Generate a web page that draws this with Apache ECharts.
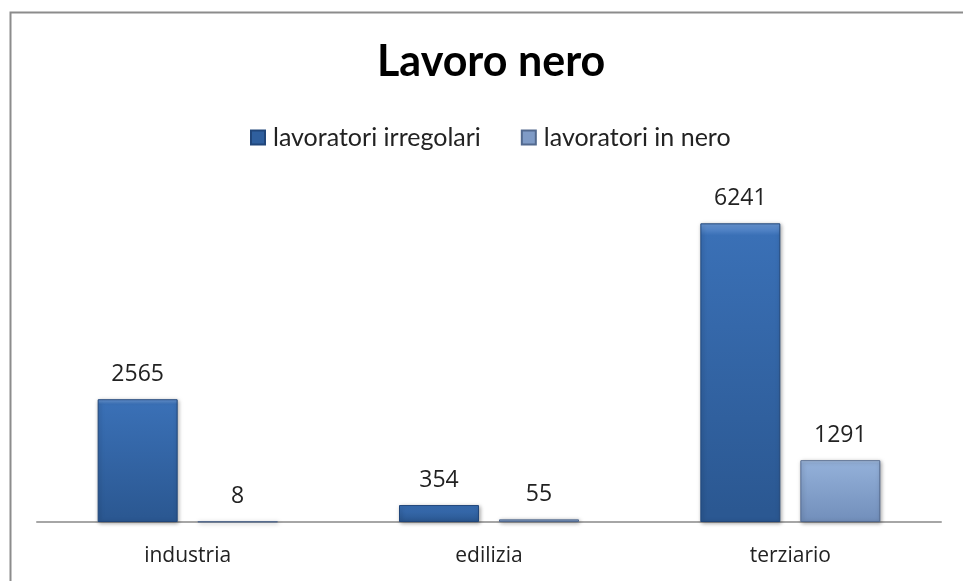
<!DOCTYPE html>
<html>
<head>
<meta charset="utf-8">
<script src="https://cdn.jsdelivr.net/npm/echarts@6/dist/echarts.min.js"></script>
<style>
  html, body { margin: 0; padding: 0; background: #fff; }
  #chart { width: 963px; height: 581px; }
</style>
</head>
<body>
<div id="chart"></div>
<script>
const categories = ['industria', 'edilizia', 'terziario'];
const irregolari = [2565, 354, 6241];
const nero = [8, 55, 1291];

const chart = echarts.init(document.getElementById('chart'));

// bevel-ish gradient like the old office charts
function grad(top, mid, bottom) {
  return new echarts.graphic.LinearGradient(0, 0, 0, 1, [
    { offset: 0, color: top },
    { offset: 0.04, color: mid },
    { offset: 0.96, color: bottom },
    { offset: 1, color: bottom }
  ]);
}

const labelStyle = {
  show: true,
  position: 'top',
  distance: 13,
  fontFamily: 'Open Sans',
  fontSize: 23,
  color: '#222'
};

chart.setOption({
  animation: false,
  title: {
    text: 'Lavoro nero',
    left: 372,
    top: 36,
    textStyle: { fontFamily: 'Lato', fontWeight: 'bold', fontSize: 43, color: '#000' }
  },
  legend: {
    top: 120,
    left: 245,
    itemWidth: 14,
    itemHeight: 14,
    itemGap: 40,
    icon: 'rect',
    textStyle: { fontFamily: 'Lato', fontSize: 25, color: '#222', padding: [0, 0, 0, 3] },
    data: [
      { name: 'lavoratori irregolari', itemStyle: { color: '#2f5f9e' } },
      { name: 'lavoratori in nero', itemStyle: { color: '#7f9bc6' } }
    ]
  },
  grid: { left: 37, right: 22, top: 187, bottom: 59 },
  xAxis: {
    type: 'category',
    data: categories,
    axisLine: { lineStyle: { color: '#a6a6a6', width: 2 } },
    axisTick: { show: false },
    axisLabel: { fontFamily: 'Open Sans', fontSize: 21, color: '#222', margin: 24 }
  },
  yAxis: {
    type: 'value',
    min: 0,
    max: 7000,
    show: false,
    splitLine: { show: false }
  },
  series: [
    {
      name: 'lavoratori irregolari',
      type: 'bar',
      barWidth: 80,
      barGap: '25%',
      data: irregolari,
      label: labelStyle,
      itemStyle: {
        color: grad('#6c9ad8', '#3a70b6', '#2b5892'),
        borderColor: '#21467a',
        borderWidth: 1,
        shadowColor: 'rgba(0,0,0,0.35)',
        shadowBlur: 4,
        shadowOffsetX: 1,
        shadowOffsetY: 1
      }
    },
    {
      name: 'lavoratori in nero',
      type: 'bar',
      barWidth: 80,
      data: nero,
      label: labelStyle,
      itemStyle: {
        color: grad('#c3d6f0', '#93b0d9', '#7390bc'),
        borderColor: '#52698e',
        borderWidth: 1,
        shadowColor: 'rgba(0,0,0,0.35)',
        shadowBlur: 4,
        shadowOffsetX: 1,
        shadowOffsetY: 1
      }
    }
  ],
  graphic: [
    {
      type: 'rect',
      left: 8,
      top: 10,
      shape: { width: 1000, height: 700 },
      style: { fill: 'none', stroke: '#8c8c8c', lineWidth: 2 },
      silent: true
    }
  ]
});
</script>
</body>
</html>
